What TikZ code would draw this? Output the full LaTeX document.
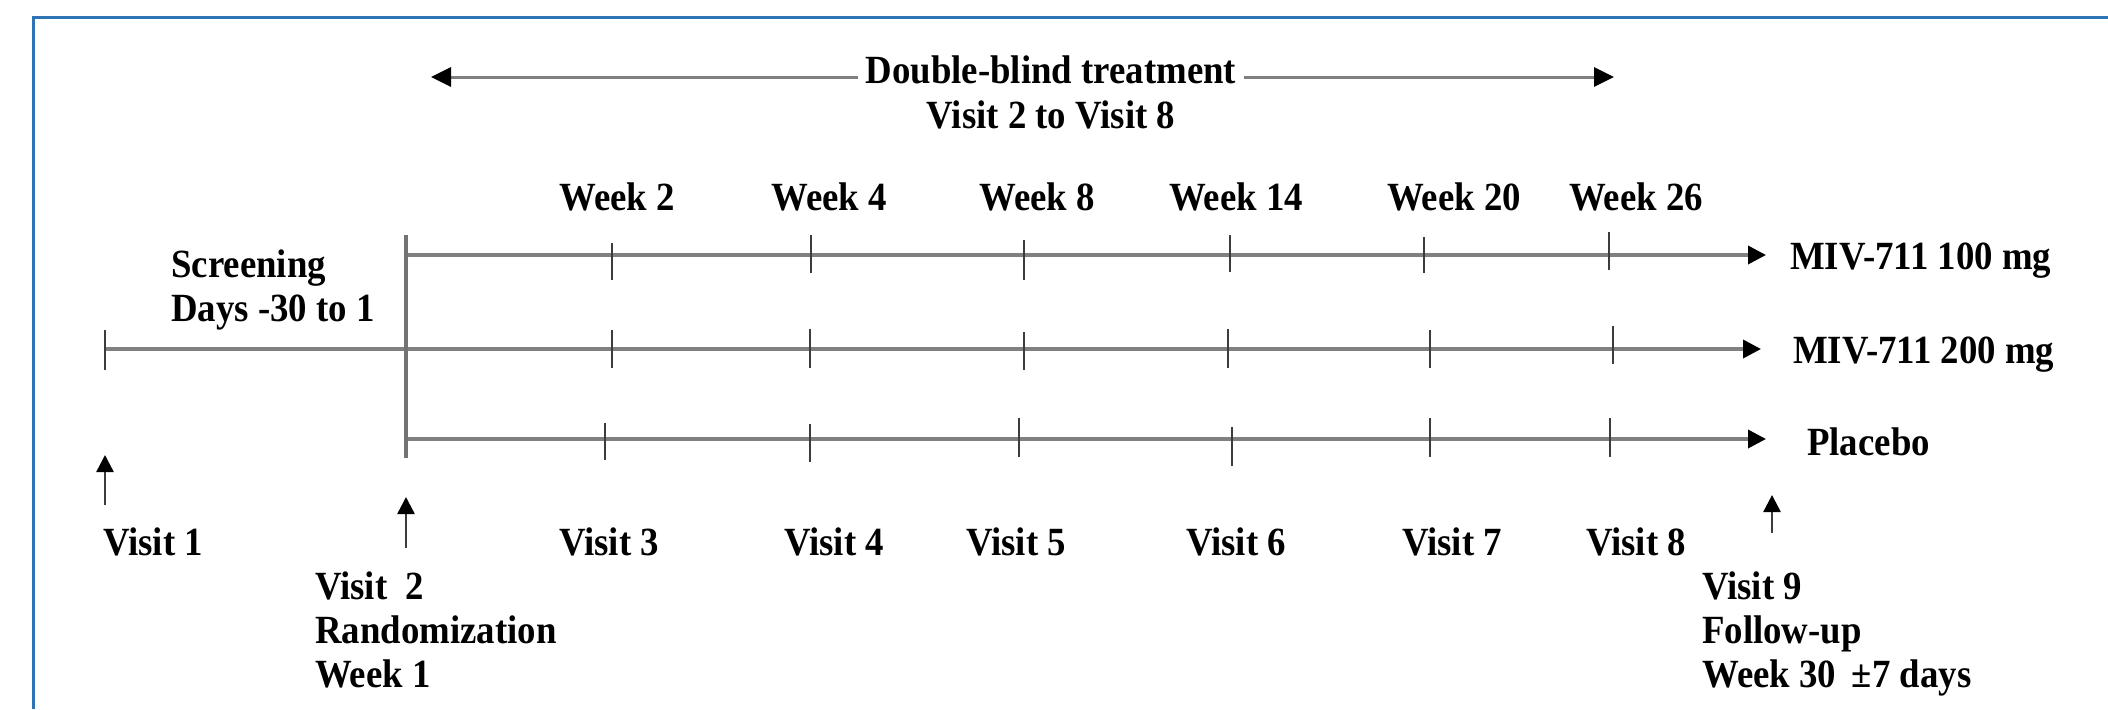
\documentclass[tikz,border=0pt]{standalone}
\usepackage{fontspec}
\setmainfont{Liberation Serif}[FakeStretch=0.92]
\usetikzlibrary{arrows.meta}
\definecolor{axisgray}{RGB}{128,128,128}
\definecolor{tickgray}{RGB}{60,60,60}
\definecolor{framec}{RGB}{46,117,182}
\begin{document}
\begin{tikzpicture}[x=1pt,y=-1pt,
  lbl/.style={font=\bfseries\fontsize{40}{44}\selectfont, inner sep=0pt},
  mlbl/.style={lbl, align=left, anchor=north west},
  axis/.style={draw=axisgray, line width=3.5pt},
  axarrow/.style={axis, -{Triangle[length=18pt,width=18pt,color=black]}},
  dbarrow/.style={axis, line width=3pt, -{Triangle[length=20pt,width=19pt,color=black]}},
  tickmark/.style={draw=tickgray, line width=2.5pt},
  uparrow/.style={draw=tickgray, line width=2.5pt, -{Triangle[length=17pt,width=17pt,color=black]}},
  vbar/.style={draw=axisgray!90!black, line width=4pt}
]
\useasboundingbox (0,0) rectangle (2108,709);
\fill[white] (0,0) rectangle (2108,709);
% frame
\draw[framec, line width=2.5pt] (33.5,709) -- (33.5,17.5) -- (2108,17.5);

% double-blind header
\node[lbl, anchor=base, inner xsep=8pt] (db) at (1051,83) {Double-blind treatment};
\node[lbl, anchor=base] (v28) at (1051,128) {Visit 2 to Visit 8};
\coordinate (dbL) at (431,77);
\coordinate (dbR) at (1614,77);
\draw[dbarrow] (db.west |- dbL) -- (dbL);
\draw[dbarrow] (db.east |- dbR) -- (dbR);

% week labels
\node[lbl, anchor=base] (w2)  at (617,210)  {Week 2};
\node[lbl, anchor=base] (w4)  at (829,210)  {Week 4};
\node[lbl, anchor=base] (w8)  at (1037,210) {Week 8};
\node[lbl, anchor=base] (w14) at (1236,210) {Week 14};
\node[lbl, anchor=base] (w20) at (1454,210) {Week 20};
\node[lbl, anchor=base] (w26) at (1636,210) {Week 26};

% screening
\node[mlbl] (scr) at (171,250) {Screening\\Days -30 to 1};

% axes
\coordinate (r1s) at (406,255); \coordinate (r1e) at (1766,255);
\coordinate (r2s) at (105,349); \coordinate (r2e) at (1761,349);
\coordinate (r3s) at (406,439); \coordinate (r3e) at (1766,439);
\coordinate (vt) at (406,235);  \coordinate (vb) at (406,458);
\draw[axarrow] (r1s) -- (r1e);
\draw[axarrow] (r2s) -- (r2e);
\draw[axarrow] (r3s) -- (r3e);
\draw[vbar] (vt) -- (vb);

% ticks
\foreach \x/\a/\b in {612/243/280, 811/235/273, 1024/240/280, 1230/235/272, 1424/237/273, 1609/232/270}
  \draw[tickmark] (\x,\a) -- (\x,\b);
\foreach \x/\a/\b in {105/330/370, 612/330/368, 810/329/368, 1024/332/370, 1228/329/368, 1430/330/368, 1613/326/364}
  \draw[tickmark] (\x,\a) -- (\x,\b);
\foreach \x/\a/\b in {605/423/460, 810/424/462, 1019/418/457, 1232/427/466, 1430/418/457, 1610/418/457}
  \draw[tickmark] (\x,\a) -- (\x,\b);

% arm labels
\node[lbl, anchor=base west] (m100) at (1790,269) {MIV-711 100 mg};
\node[lbl, anchor=base west] (m200) at (1793,363) {MIV-711 200 mg};
\node[lbl, anchor=base west] (plc)  at (1807,455) {Placebo};

% up arrows
\coordinate (a1s) at (105,505);  \coordinate (a1e) at (105,455);
\coordinate (a2s) at (406,548);  \coordinate (a2e) at (406,497);
\coordinate (a9s) at (1772,533); \coordinate (a9e) at (1772,495);
\draw[uparrow] (a1s) -- (a1e);
\draw[uparrow] (a2s) -- (a2e);
\draw[uparrow] (a9s) -- (a9e);

% visit labels
\node[lbl, anchor=base west] (vis1) at (103,555) {Visit 1};
\node[lbl, anchor=base] (vis3) at (609,555)  {Visit 3};
\node[lbl, anchor=base] (vis4) at (834,555)  {Visit 4};
\node[lbl, anchor=base] (vis5) at (1016,555) {Visit 5};
\node[lbl, anchor=base] (vis6) at (1236,555) {Visit 6};
\node[lbl, anchor=base] (vis7) at (1452,555) {Visit 7};
\node[lbl, anchor=base] (vis8) at (1636,555) {Visit 8};

\node[mlbl] (vis2) at (315,572) {Visit\ \ 2\\Randomization\\Week 1};
\node[mlbl] (vis9) at (1702,572) {Visit 9\\Follow-up\\Week 30 \,±7 days};
\end{tikzpicture}
\end{document}
